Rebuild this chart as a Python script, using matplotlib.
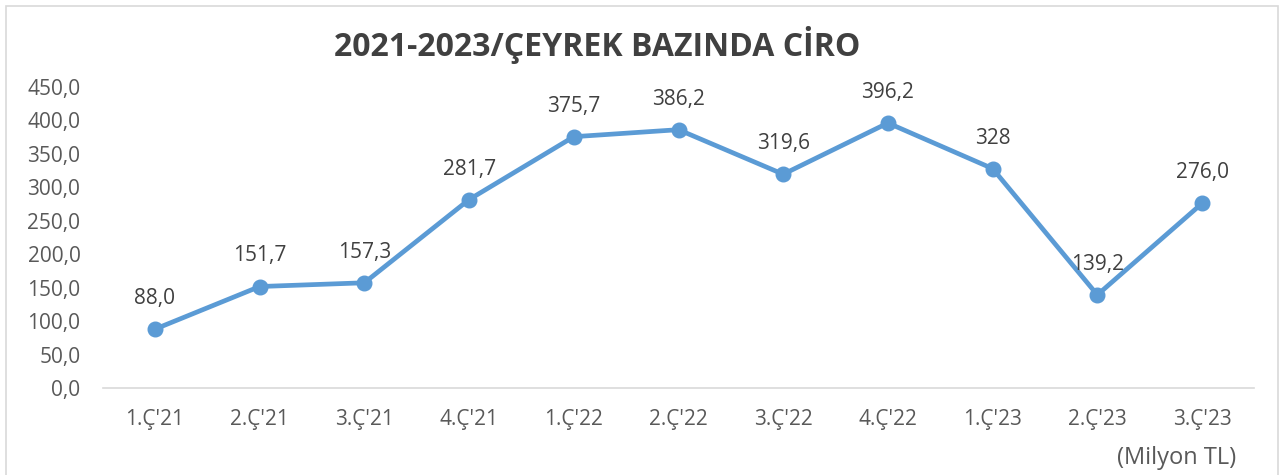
import matplotlib
matplotlib.use("Agg")
import matplotlib.pyplot as plt
from matplotlib.patches import Rectangle

categories = ["1.Ç'21", "2.Ç'21", "3.Ç'21", "4.Ç'21", "1.Ç'22", "2.Ç'22",
              "3.Ç'22", "4.Ç'22", "1.Ç'23", "2.Ç'23", "3.Ç'23"]
values = [88.0, 151.7, 157.3, 281.7, 375.7, 386.2, 319.6, 396.2, 328.0, 139.2, 276.0]
labels = ["88,0", "151,7", "157,3", "281,7", "375,7", "386,2", "319,6", "396,2", "328", "139,2", "276,0"]
yticks = [0, 50, 100, 150, 200, 250, 300, 350, 400, 450]
ytick_labels = ["0,0", "50,0", "100,0", "150,0", "200,0", "250,0", "300,0", "350,0", "400,0", "450,0"]

plt.rcParams['font.family'] = ['Open Sans', 'DejaVu Sans']
W, H = 1285, 475
fig = plt.figure(figsize=(W / 100, H / 100), dpi=100)
ax = fig.add_axes([102.6 / W, 1 - 388 / H, (1254.4 - 102.6) / W, (388 - 87) / H])

x = list(range(len(categories)))
ax.plot(x, values, color="#5B9BD5", linewidth=3.4, marker="o", markersize=10.5,
        solid_capstyle="round", zorder=3)
for xi, v, lab in zip(x, values, labels):
    ax.annotate(lab, (xi, v), xytext=(0, 22), textcoords="offset points",
                ha="center", va="center", fontsize=15, color="#404040")

ax.set_xlim(-0.5, len(categories) - 0.5)
ax.set_ylim(0, 450)
ax.set_xticks(x)
ax.set_xticklabels(categories, fontsize=15, color="#595959")
ax.set_yticks(yticks)
ax.set_yticklabels(ytick_labels, fontsize=15, color="#595959")
ax.tick_params(axis="both", length=0)
ax.tick_params(axis="x", pad=15)
ax.tick_params(axis="y", pad=16)
for s in ["top", "right", "left"]:
    ax.spines[s].set_visible(False)
ax.spines["bottom"].set_color("#D9D9D9")
ax.spines["bottom"].set_linewidth(1.2)
ax.set_facecolor("none")

fig.text(597 / W, 1 - 45 / H, "2021-2023/ÇEYREK BAZINDA CİRO", ha="center", va="center",
         fontsize=23, fontweight="bold", color="#404040")
fig.text(1236 / W, 1 - 458 / H, "(Milyon TL)", ha="right", va="center",
         fontsize=17, color="#595959")

fig.patches.append(Rectangle((6 / W, -0.05), (1278 - 6) / W, 1.05 - 6 / H,
                             transform=fig.transFigure, fill=False,
                             edgecolor="#D9D9D9", linewidth=1.2))

fig.savefig("out.png", dpi=100)
